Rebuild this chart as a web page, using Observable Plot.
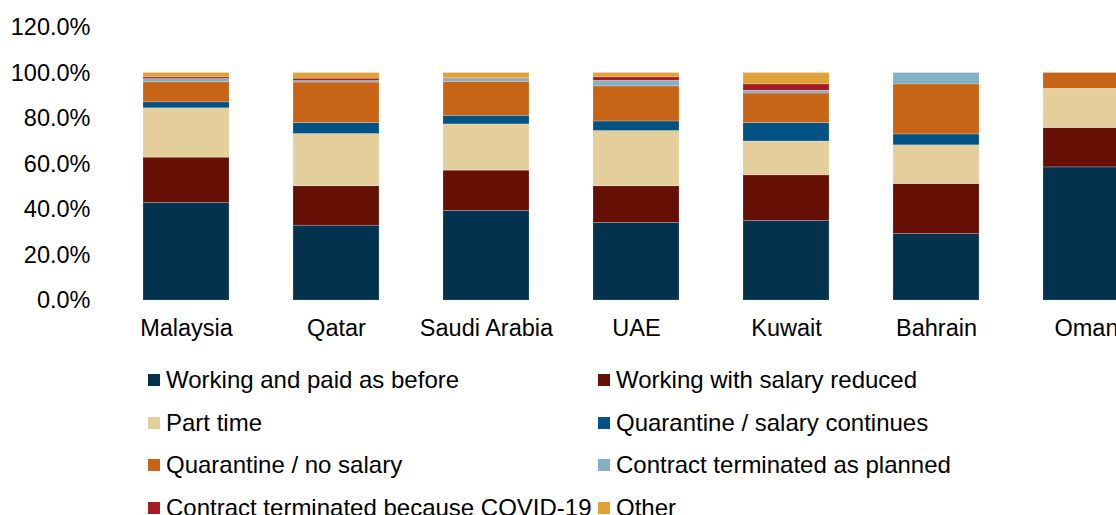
<!DOCTYPE html>
<html>
<head>
<meta charset="utf-8">
<script src="https://cdn.jsdelivr.net/npm/d3@7"></script>
<script src="https://cdn.jsdelivr.net/npm/@observablehq/plot@0.6"></script>
<style>
  html, body { margin: 0; padding: 0; background: white; }
  body { width: 1116px; height: 515px; overflow: hidden; font-family: "Liberation Sans", Arial, sans-serif; color: #000; }
  #legend { display: grid; grid-template-columns: 450px 450px; grid-auto-rows: 42.5px; padding-top: 8.75px; margin-left: 148px; }
  .item { display: flex; align-items: center; font-size: 24px; white-space: nowrap; }
  .sw { width: 12px; height: 12px; margin-right: 6px; flex: none; }
</style>
</head>
<body>
<div id="chart"></div>
<div id="legend"></div>
<script>
const categories = ["Malaysia", "Qatar", "Saudi Arabia", "UAE", "Kuwait", "Bahrain", "Oman"];
const seriesNames = [
  "Working and paid as before",
  "Working with salary reduced",
  "Part time",
  "Quarantine / salary continues",
  "Quarantine / no salary",
  "Contract terminated as planned",
  "Contract terminated because COVID-19",
  "Other"
];
const colors = ["#03324F", "#660F05", "#E3CE9C", "#005282", "#C86415", "#82B1C4", "#A51C22", "#E0A238"];

const working         = [42.9, 32.9, 39.4, 34.1, 35.0, 29.2, 58.5];
const salaryReduced   = [19.9, 17.3, 17.7, 16.1, 20.0, 22.0, 17.3];
const partTime        = [21.7, 23.0, 20.3, 24.3, 14.9, 17.0, 17.3];
const quarSalary      = [2.6, 4.8, 3.8, 4.2, 8.1, 4.8, 0];
const quarNoSalary    = [8.8, 17.8, 14.9, 15.4, 13.0, 22.0, 6.9];
const contractPlanned = [1.5, 0.7, 1.3, 2.5, 1.2, 5.0, 0];
const contractCovid   = [0.7, 1.0, 0.3, 1.5, 2.8, 0, 0];
const other           = [1.9, 2.5, 2.3, 1.9, 5.0, 0, 0];

const yTicks = [0, 20, 40, 60, 80, 100, 120];

const seriesValues = [working, salaryReduced, partTime, quarSalary, quarNoSalary, contractPlanned, contractCovid, other];
const data = [];
seriesNames.forEach((s, si) => {
  categories.forEach((c, ci) => {
    const v = seriesValues[si][ci];
    if (v > 0) data.push({country: c, series: s, value: v});
  });
});

const chart = Plot.plot({
  width: 1116,
  height: 350,
  marginTop: 27,
  marginBottom: 50,
  marginLeft: 100,
  marginRight: 0,
  style: {fontFamily: "'Liberation Sans', Arial, sans-serif", fontSize: "23.5px", color: "#000", background: "white"},
  x: {domain: categories, range: [68, 1204], paddingInner: 0.427, paddingOuter: 0.5, label: null},
  y: {domain: [0, 120], label: null},
  color: {domain: seriesNames, range: colors},
  marks: [
    Plot.barY(data, {x: "country", y: "value", fill: "series", order: seriesNames, stroke: "white", strokeWidth: 0.6, strokeOpacity: 0.35}),
    Plot.axisX({tickSize: 0, tickPadding: 19, label: null, fill: "#000"}),
    Plot.axisY({ticks: yTicks, tickSize: 0, tickPadding: 10, label: null, fill: "#000", tickFormat: d => d.toFixed(1) + "%"})
  ]
});
document.getElementById("chart").appendChild(chart);

const legend = document.getElementById("legend");
seriesNames.forEach((s, i) => {
  const item = document.createElement("div");
  item.className = "item";
  const sw = document.createElement("span");
  sw.className = "sw";
  sw.style.background = colors[i];
  const t = document.createElement("span");
  t.textContent = s;
  item.appendChild(sw);
  item.appendChild(t);
  legend.appendChild(item);
});
</script>
</body>
</html>
